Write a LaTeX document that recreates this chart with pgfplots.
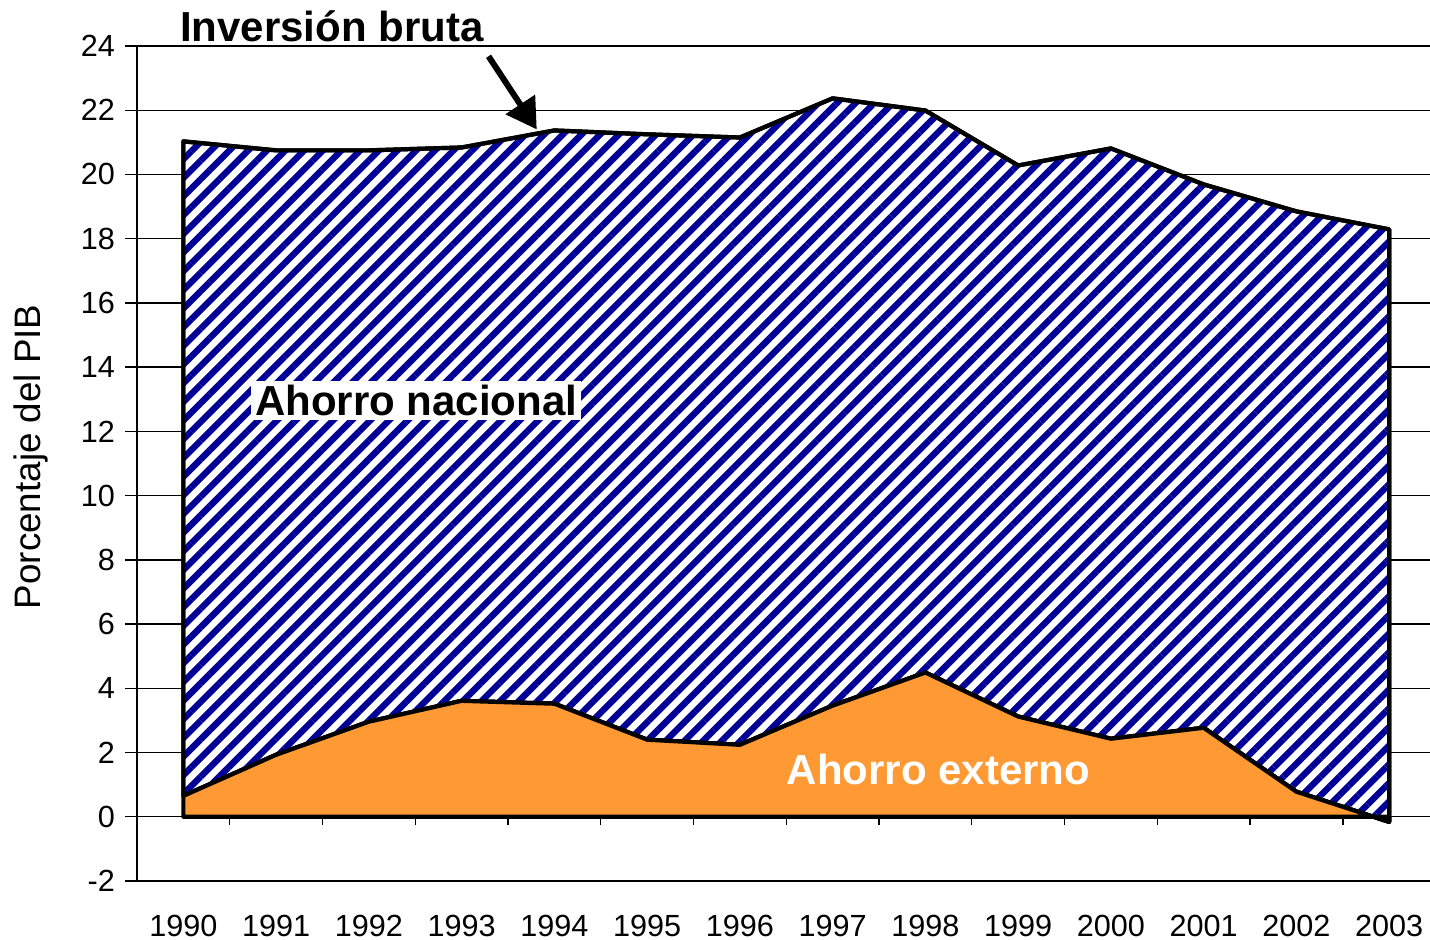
\documentclass[border=0pt]{standalone}
\usepackage{fontspec}
\setmainfont{Liberation Sans}
\usepackage{pgfplots}
\pgfplotsset{compat=1.18}
\usepackage{pgfplotstable}
\usetikzlibrary{patterns.meta,arrows.meta,calc}
\definecolor{orangefill}{RGB}{255,153,51}
\definecolor{navyhatch}{RGB}{0,0,150}

\pgfplotstableread{
idx inv ext
0 21.03 0.65
1 20.75 1.93
2 20.75 2.96
3 20.84 3.61
4 21.37 3.52
5 21.25 2.40
6 21.15 2.24
7 22.37 3.46
8 21.99 4.49
9 20.28 3.12
10 20.81 2.43
11 19.69 2.77
12 18.85 0.78
13 18.29 -0.16
}\data

\begin{document}
\begin{tikzpicture}
\begin{axis}[
  name=ax,
  scale only axis, width=646.5pt, height=417.5pt,
  xmin=-0.5, xmax=13.44, ymin=-2, ymax=24,
  ytick={-2,0,...,24},
  xtick={0,...,13},
  xticklabels={1990,1991,1992,1993,1994,1995,1996,1997,1998,1999,2000,2001,2002,2003},
  axis x line*=bottom, axis y line*=left,
  axis line style={-, line width=0.7pt, black},
  ymajorgrids, major grid style={black, line width=0.7pt},
  tick align=outside,
  ytick style={black, line width=0.7pt},
  xtick style={draw=none},
  major tick length=6pt,
  /pgf/number format/assume math mode=true,
  ticklabel style={font=\fontsize{15.3}{18}\selectfont},
  yticklabel style={xshift=-1.5pt},
  xticklabel style={anchor=center, yshift=-16.5pt},
  ylabel={Porcentaje del PIB},
  ylabel style={at={(axis description cs:-0.082,0.508)}, anchor=center, font=\fontsize{18.4}{22}\selectfont},
  stack plots=y,
  clip=false,
]
\addplot[draw=black, line width=2.1pt, line join=round, fill=orangefill]
  table[x=idx, y=ext] {\data} \closedcycle;
\addplot[draw=black, line width=2.1pt, line join=round, fill=white,
  postaction={pattern={Lines[angle=45, distance=6.6pt, line width=3.2pt]}, pattern color=navyhatch}]
  table[x=idx, y expr=\thisrow{inv}-\thisrow{ext}] {\data} \closedcycle;

\coordinate (tit) at (axis cs:1.6,24.6);
\coordinate (arA) at (axis cs:3.29,23.68);
\coordinate (arB) at (axis cs:3.81,21.4);
\coordinate (nac) at (axis cs:2.51,12.96);
\coordinate (ext) at (axis cs:8.14,1.46);
\pgfplotsinvokeforeach{0,...,12}{
  \coordinate (tk#1) at (axis cs:#1.5,0);
}
\end{axis}
\foreach \i in {0,...,12}{
  \draw[line width=0.7pt, black] (tk\i) -- ++(0,-4pt);
}
\node[font=\bfseries\fontsize{21}{25}\selectfont] at (tit) {Inversión bruta};
\draw[line width=3pt, -{Triangle[length=15pt, width=17pt]}] (arA) -- (arB);
\node[fill=white, inner sep=2pt, font=\bfseries\fontsize{21}{25}\selectfont] at (nac) {Ahorro nacional};
\node[text=white, font=\bfseries\fontsize{21}{25}\selectfont] at (ext) {Ahorro externo};
\pgfresetboundingbox
\path ($(ax.south west)+(-68.5pt,-29.5pt)$) rectangle ($(ax.north east)+(0pt,23pt)$);
\end{tikzpicture}
\end{document}
